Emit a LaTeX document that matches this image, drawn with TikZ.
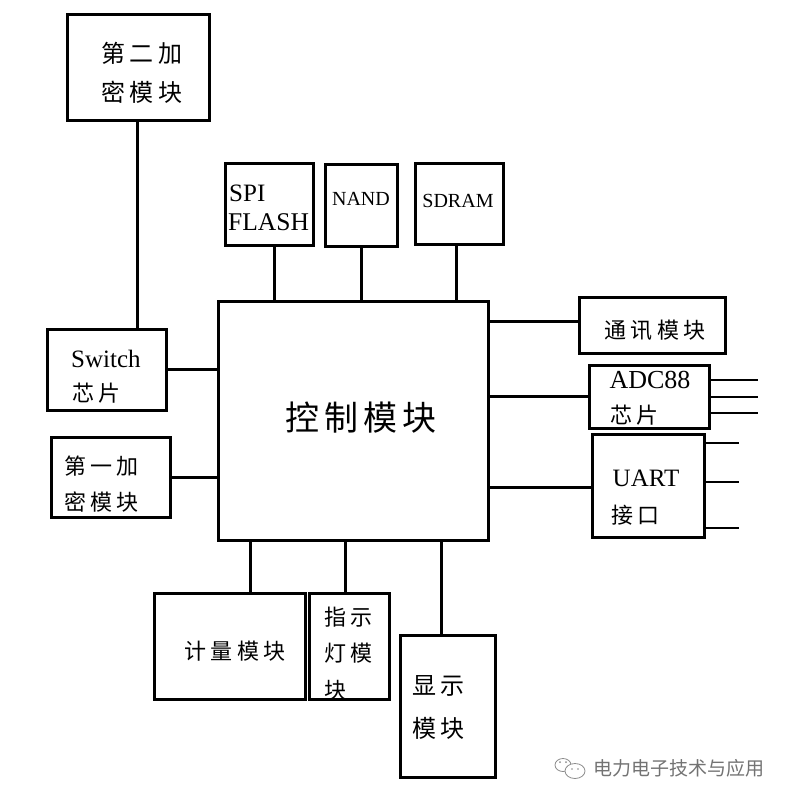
\documentclass[tikz,border=0pt]{standalone}
\usepackage{fontspec}
\setmainfont{Liberation Serif}
\newfontfamily\cjk[LetterSpace=20]{Noto Sans CJK SC}
\newfontfamily\cjkbig[LetterSpace=14]{Noto Sans CJK SC}
\newfontfamily\wmfont{Noto Sans CJK SC}
\begin{document}
\begin{tikzpicture}[x=1pt,y=-1pt,
  box/.style={draw=black, line width=3pt, rectangle, inner sep=0pt},
  wire/.style={draw=black, line width=3pt},
  cjt/.style={inner sep=0pt, font=\cjk\fontsize{24pt}{24pt}\selectfont},
  cjs/.style={inner sep=0pt, font=\cjk\fontsize{22pt}{22pt}\selectfont},
  lat/.style={inner sep=0pt, font=\fontsize{25pt}{25pt}\selectfont},
  lats/.style={inner sep=0pt, font=\fontsize{20pt}{20pt}\selectfont},
  wmark/.style={inner sep=0pt, text=black!55, font=\wmfont\fontsize{19pt}{19pt}\selectfont}]
\useasboundingbox (0,0) rectangle (789,803);
\fill[white] (0,0) rectangle (789,803);
% boxes
\node[box, minimum width=142, minimum height=106] (sw2) at (138,67) {};
\node[box, minimum width=119, minimum height=81] (sw) at (106.5,369.5) {};
\node[box, minimum width=270, minimum height=239] (ctrl) at (353,420.5) {};
\node[box, minimum width=88, minimum height=82] (spi) at (269,204) {};
\node[box, minimum width=72, minimum height=82] (nand) at (361,205) {};
\node[box, minimum width=88, minimum height=81] (sdram) at (459,203.5) {};
\node[box, minimum width=146, minimum height=56] (tx) at (652,325) {};
\node[box, minimum width=120, minimum height=63] (adc) at (649,396.5) {};
\node[box, minimum width=112, minimum height=103] (uart) at (648,485.5) {};
\node[box, minimum width=119, minimum height=80] (en1) at (110.5,477) {};
\node[box, minimum width=151, minimum height=106] (jl) at (229.5,646) {};
\node[box, minimum width=80, minimum height=106] (zs) at (349,646) {};
\node[box, minimum width=95, minimum height=142] (xs) at (447.5,706) {};
% texts
\node[cjt] (t2a) at (142,53) {第二加};
\node[cjt] (t2b) at (142,92) {密模块};
\node[lat, anchor=west] (tspi) at (229,193) {SPI};
\node[lat, anchor=west, font=\fontsize{25.5pt}{25.5pt}\selectfont] (tfl) at (228,222) {FLASH};
\node[lats] (tnand) at (361,199) {NAND};
\node[lats] (tsd) at (458,201) {SDRAM};
\node[lat, anchor=west] (tswa) at (71,359) {Switch};
\node[cjs, anchor=west] (tswb) at (72,393) {芯片};
\node[inner sep=0pt, font=\cjkbig\fontsize{34pt}{34pt}\selectfont] (tctrl) at (361,418) {控制模块};
\node[cjs] (ttx) at (655,330) {通讯模块};
\node[lat, font=\fontsize{26pt}{26pt}\selectfont] (tadca) at (650,380) {ADC88};
\node[cjs, anchor=west] (tadcb) at (610,415) {芯片};
\node[lat] (tua) at (646,478) {UART};
\node[cjs, anchor=west] (tub) at (611,515) {接口};
\node[cjs, anchor=west] (te1a) at (64,466) {第一加};
\node[cjs, anchor=west] (te1b) at (64,502) {密模块};
\node[cjs] (tjl) at (235,651) {计量模块};
\node[cjs, anchor=west] (tzsa) at (324,617) {指示};
\node[cjs, anchor=west] (tzsb) at (324,653) {灯模};
\node[cjs, anchor=west] (tzsc) at (324,690) {块};
\node[cjt, anchor=west] (txsa) at (412,686) {显示};
\node[cjt, anchor=west] (txsb) at (412,728) {模块};
% connectors
\draw[wire] ([xshift=-1pt]sw2.south) -- ([xshift=-1pt]sw2.south |- sw.north);
\draw[wire] (sw.east) -- (sw.east -| ctrl.west);
\draw[wire] (en1.east) -- (en1.east -| ctrl.west);
\draw[wire] ([xshift=5pt]spi.south) -- ([xshift=5pt]spi.south |- ctrl.north);
\draw[wire] (nand.south) -- (nand.south |- ctrl.north);
\draw[wire] ([xshift=-3pt]sdram.south) -- ([xshift=-3pt]sdram.south |- ctrl.north);
\draw[wire] ([yshift=4pt]tx.west) -- ([yshift=4pt]tx.west -| ctrl.east);
\draw[wire] (adc.west) -- (adc.west -| ctrl.east);
\draw[wire] ([yshift=-1.5pt]uart.west) -- ([yshift=-1.5pt]uart.west -| ctrl.east);
\draw[wire] ([xshift=20.5pt]jl.north) -- ([xshift=20.5pt]jl.north |- ctrl.south);
\draw[wire] ([xshift=-4pt]zs.north) -- ([xshift=-4pt]zs.north |- ctrl.south);
\draw[wire] ([xshift=-6.5pt]xs.north) -- ([xshift=-6.5pt]xs.north |- ctrl.south);
% free-ended pins
\coordinate (a1) at (758,380);
\coordinate (a2) at (758,397);
\coordinate (a3) at (758,413);
\coordinate (u1) at (739,443);
\coordinate (u2) at (739,482);
\coordinate (u3) at (739,528);
\draw[wire, line width=2.6pt] (a1 -| adc.east) -- (a1);
\draw[wire, line width=2.6pt] (a2 -| adc.east) -- (a2);
\draw[wire, line width=2.6pt] (a3 -| adc.east) -- (a3);
\draw[wire, line width=2.6pt] (u1 -| uart.east) -- (u1);
\draw[wire, line width=2.6pt] (u2 -| uart.east) -- (u2);
\draw[wire, line width=2.6pt] (u3 -| uart.east) -- (u3);
% watermark
\draw[black!45, line width=0.8pt] (563,765) ellipse [x radius=8, y radius=6.5];
\fill[white] (575,771) ellipse [x radius=10, y radius=7.5];
\draw[black!45, line width=0.8pt] (575,771) ellipse [x radius=10, y radius=7.5];
\fill[black!45] (560,762) circle (1) (566,762) circle (1) (572,769) circle (0.9) (578,769) circle (0.9);
\node[wmark, anchor=west] (wm) at (593,768) {电力电子技术与应用};
\end{tikzpicture}
\end{document}
